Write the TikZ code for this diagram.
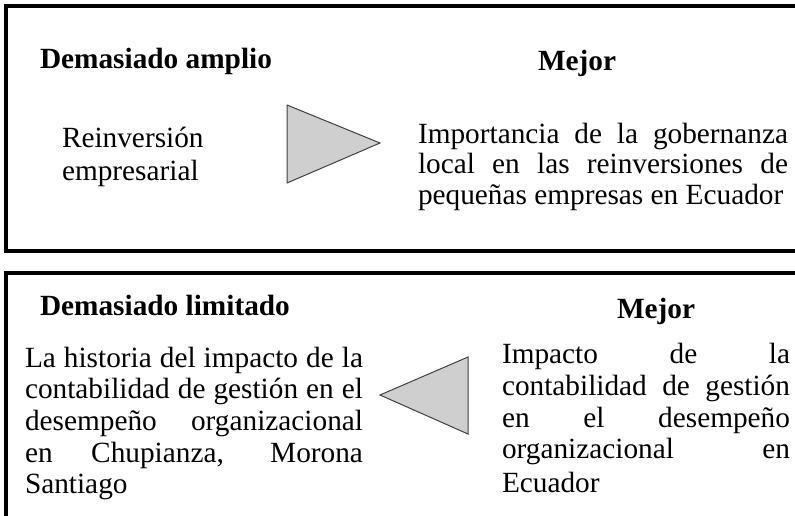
\documentclass[tikz,border=0pt]{standalone}
\usepackage{fontspec}
\setmainfont{Liberation Serif}
\begin{document}
\begin{tikzpicture}[x=1pt,y=-1pt,
  frame/.style={draw=black,line width=4.5pt},
  tri/.style={draw=black!75,fill=black!19,line width=1pt,line join=miter},
  txt/.style={anchor=base west,inner sep=0pt,outer sep=0pt,font=\fontsize{29.3}{33}\selectfont},
  head/.style={txt,font=\fontsize{29.3}{33}\selectfont\bfseries}]
\useasboundingbox (0,0) rectangle (795,515);
% frames
\draw[frame] (6,6) rectangle (805,251);
\draw[frame] (6,273) rectangle (805,530);
% triangles
\draw[tri] (287,105) -- (287,183) -- (380,143) -- cycle;
\draw[tri] (468,357) -- (468,434) -- (380,395) -- cycle;
% top box
\node[head] (h1) at (40,68) {Demasiado amplio};
\node[head] (m1) at (538,70) {Mejor};
\node[txt] (a1) at (62,147) {Reinversión};
\node[txt] (a2) at (62,180) {empresarial};
\node[txt] (b1) at (418,143) {\makebox[370pt][s]{Importancia de la gobernanza}};
\node[txt] (b2) at (418,173) {\makebox[370pt][s]{local en las reinversiones de}};
\node[txt] (b3) at (418,204) {pequeñas empresas en Ecuador};
% bottom box
\node[head] (h2) at (40,315) {Demasiado limitado};
\node[head] (m2) at (617,318) {Mejor};
\node[txt] (c1) at (25,367) {\makebox[338pt][s]{La historia del impacto de la}};
\node[txt] (c2) at (25,398) {\makebox[338pt][s]{contabilidad de gestión en el}};
\node[txt] (c3) at (25,430) {\makebox[338pt][s]{desempeño organizacional}};
\node[txt] (c4) at (25,462) {\makebox[338pt][s]{en Chupianza, Morona}};
\node[txt] (c5) at (25,493) {Santiago};
\node[txt] (d1) at (502,363) {\makebox[288pt][s]{Impacto de la}};
\node[txt] (d2) at (502,395) {\makebox[288pt][s]{contabilidad de gestión}};
\node[txt] (d3) at (502,427) {\makebox[288pt][s]{en el desempeño}};
\node[txt] (d4) at (502,458) {\makebox[288pt][s]{organizacional en}};
\node[txt] (d5) at (502,492) {Ecuador};
\end{tikzpicture}
\end{document}
